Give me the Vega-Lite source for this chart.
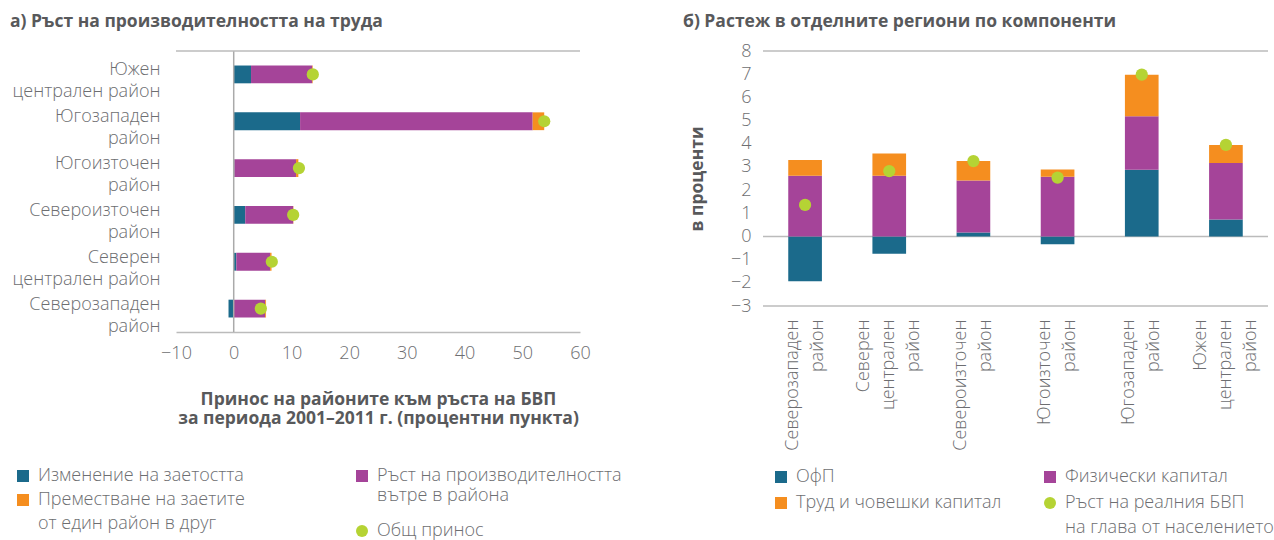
{
  "$schema": "https://vega.github.io/schema/vega-lite/v6.json",
  "padding": {"left": 10, "top": 12, "right": 0, "bottom": 0},
  "spacing": 61,
  "hconcat": [
    {
      "width": 404,
      "height": 281,
      "title": {"text": "а) Ръст на производителността на труда", "anchor": "start", "frame": "group", "dx": -166, "offset": 20},
      "data": {"values": [
        {"r": "Южен централен район", "c": "Изменение на заетостта", "v": 3.0},
        {"r": "Южен централен район", "c": "Ръст на производителността вътре в района", "v": 10.6},
        {"r": "Южен централен район", "c": "Преместване на заетите от един район в друг", "v": 0.1},
        {"r": "Южен централен район", "c": "Общ принос", "v": 13.7},
        {"r": "Югозападен район", "c": "Изменение на заетостта", "v": 11.5},
        {"r": "Югозападен район", "c": "Ръст на производителността вътре в района", "v": 40.3},
        {"r": "Югозападен район", "c": "Преместване на заетите от един район в друг", "v": 2.0},
        {"r": "Югозападен район", "c": "Общ принос", "v": 53.8},
        {"r": "Югоизточен район", "c": "Изменение на заетостта", "v": 0.1},
        {"r": "Югоизточен район", "c": "Ръст на производителността вътре в района", "v": 10.7},
        {"r": "Югоизточен район", "c": "Преместване на заетите от един район в друг", "v": 0.4},
        {"r": "Югоизточен район", "c": "Общ принос", "v": 11.3},
        {"r": "Североизточен район", "c": "Изменение на заетостта", "v": 2.0},
        {"r": "Североизточен район", "c": "Ръст на производителността вътре в района", "v": 8.3},
        {"r": "Североизточен район", "c": "Преместване на заетите от един район в друг", "v": 0.05},
        {"r": "Североизточен район", "c": "Общ принос", "v": 10.3},
        {"r": "Северен централен район", "c": "Изменение на заетостта", "v": 0.45},
        {"r": "Северен централен район", "c": "Ръст на производителността вътре в района", "v": 5.85},
        {"r": "Северен централен район", "c": "Преместване на заетите от един район в друг", "v": 0.25},
        {"r": "Северен централен район", "c": "Общ принос", "v": 6.6},
        {"r": "Северозападен район", "c": "Изменение на заетостта", "v": -0.9},
        {"r": "Северозападен район", "c": "Ръст на производителността вътре в района", "v": 5.45},
        {"r": "Северозападен район", "c": "Преместване на заетите от един район в друг", "v": 0.15},
        {"r": "Северозападен район", "c": "Общ принос", "v": 4.7}
      ]},
      "transform": [
        {"calculate": "indexof(['Изменение на заетостта','Ръст на производителността вътре в района','Преместване на заетите от един район в друг','Общ принос'], datum.c)", "as": "k"}
      ],
      "layer": [
        {
          "transform": [{"filter": "datum.k < 3"}],
          "mark": {"type": "bar"},
          "encoding": {
            "y": {"field": "r", "type": "nominal", "sort": ["Южен централен район", "Югозападен район", "Югоизточен район", "Североизточен район", "Северен централен район", "Северозападен район"],
              "scale": {"paddingInner": 0.62, "paddingOuter": 0.31},
              "axis": {"title": null, "ticks": false, "domain": false, "labelPadding": 16, "labelLimit": 300, "labelLineHeight": 22, "labelOverlap": false, "labelOffset": -4,
                "labelExpr": "indexof(datum.label, 'централен') > 0 ? [split(datum.label, ' ')[0], 'централен район'] : split(datum.label, ' ')"}},
            "x": {"field": "v", "type": "quantitative", "stack": "zero",
              "scale": {"domain": [-10, 60], "nice": false, "zero": false},
              "axis": {"values": [-10, 0, 10, 20, 30, 40, 50, 60], "grid": false, "ticks": false, "domain": true, "domainColor": "#bbbbbb", "domainWidth": 1.5, "labelPadding": 12, "labelOverlap": false, "labelFlush": false,
                "title": ["Принос на районите към ръста на БВП", "за периода 2001–2011 г. (процентни пункта)"], "titlePadding": 28, "titleLineHeight": 19}},
            "color": {"field": "c", "type": "nominal",
              "scale": {"domain": ["Изменение на заетостта", "Ръст на производителността вътре в района", "Преместване на заетите от един район в друг"], "range": ["#1b6a8b", "#a54499", "#f58e1f"]},
              "legend": {"orient": "none", "legendX": -162, "legendY": 416, "values": ["Изменение на заетостта", "Преместване на заетите от един район в друг"], "rowPadding": 6, "title": null, "symbolType": "square",
                "labelExpr": "datum.label == 'Преместване на заетите от един район в друг' ? ['Преместване на заетите', 'от един район в друг'] : datum.label",
                "encode": {"labels": {"update": {"lineHeight": {"value": 24}}}}}},
            "order": {"field": "k", "type": "quantitative"}
          }
        },
        {
          "data": {"values": [{"z": 0}]},
          "mark": {"type": "rule", "color": "#aaaaaa", "strokeWidth": 1.5},
          "encoding": {"x": {"field": "z", "type": "quantitative"}}
        },
        {
          "data": {"values": [{"t": 1}]},
          "mark": {"type": "rule", "color": "#bbbbbb", "strokeWidth": 1.5},
          "encoding": {"y": {"field": "t", "type": "quantitative", "scale": {"domain": [0, 1], "nice": false}, "axis": null}}
        },
        {
          "transform": [{"filter": "datum.k == 3"}],
          "mark": {"type": "point", "filled": true, "size": 150, "opacity": 1},
          "encoding": {
            "y": {"field": "r", "type": "nominal", "sort": ["Южен централен район", "Югозападен район", "Югоизточен район", "Североизточен район", "Северен централен район", "Северозападен район"],
              "scale": {"paddingInner": 0.62, "paddingOuter": 0.31}, "axis": null},
            "x": {"field": "v", "type": "quantitative"},
            "fill": {"field": "c", "type": "nominal",
              "scale": {"domain": ["Ръст на производителността вътре в района", "Общ принос"], "range": ["#a54499", "#b5d334"]},
              "legend": {"orient": "none", "legendX": 177, "legendY": 416, "rowPadding": 17, "title": null,
                "labelExpr": "datum.label == 'Ръст на производителността вътре в района' ? ['Ръст на производителността', 'вътре в района'] : datum.label",
                "encode": {"labels": {"update": {"lineHeight": {"value": 25}}}}}},
            "shape": {"field": "c", "type": "nominal",
              "scale": {"domain": ["Ръст на производителността вътре в района", "Общ принос"], "range": ["square", "circle"]},
              "legend": {"orient": "none", "legendX": 177, "legendY": 416, "rowPadding": 17, "title": null,
                "labelExpr": "datum.label == 'Ръст на производителността вътре в района' ? ['Ръст на производителността', 'вътре в района'] : datum.label",
                "encode": {"labels": {"update": {"lineHeight": {"value": 25}}}}}}
          }
        }
      ],
      "resolve": {"scale": {"y": "independent"}, "axis": {"y": "independent"}}
    },
    {
      "width": 505,
      "height": 255,
      "title": {"text": "б) Растеж в отделните региони по компоненти", "anchor": "start", "frame": "group", "dx": -80, "offset": 12},
      "data": {"values": [
        {"r": "Северозападен район", "c": "ОфП", "v": -1.93},
        {"r": "Северозападен район", "c": "Физически капитал", "v": 2.62},
        {"r": "Северозападен район", "c": "Труд и човешки капитал", "v": 0.68},
        {"r": "Северозападен район", "c": "Ръст на реалния БВП на глава от населението", "v": 1.36},
        {"r": "Северен централен район", "c": "ОфП", "v": -0.75},
        {"r": "Северен централен район", "c": "Физически капитал", "v": 2.62},
        {"r": "Северен централен район", "c": "Труд и човешки капитал", "v": 0.96},
        {"r": "Северен централен район", "c": "Ръст на реалния БВП на глава от населението", "v": 2.82},
        {"r": "Североизточен район", "c": "ОфП", "v": 0.17},
        {"r": "Североизточен район", "c": "Физически капитал", "v": 2.24},
        {"r": "Североизточен район", "c": "Труд и човешки капитал", "v": 0.84},
        {"r": "Североизточен район", "c": "Ръст на реалния БВП на глава от населението", "v": 3.25},
        {"r": "Югоизточен район", "c": "ОфП", "v": -0.34},
        {"r": "Югоизточен район", "c": "Физически капитал", "v": 2.58},
        {"r": "Югоизточен район", "c": "Труд и човешки капитал", "v": 0.31},
        {"r": "Югоизточен район", "c": "Ръст на реалния БВП на глава от населението", "v": 2.54},
        {"r": "Югозападен район", "c": "ОфП", "v": 2.88},
        {"r": "Югозападен район", "c": "Физически капитал", "v": 2.31},
        {"r": "Югозападен район", "c": "Труд и човешки капитал", "v": 1.79},
        {"r": "Югозападен район", "c": "Ръст на реалния БВП на глава от населението", "v": 6.98},
        {"r": "Южен централен район", "c": "ОфП", "v": 0.73},
        {"r": "Южен централен район", "c": "Физически капитал", "v": 2.44},
        {"r": "Южен централен район", "c": "Труд и човешки капитал", "v": 0.78},
        {"r": "Южен централен район", "c": "Ръст на реалния БВП на глава от населението", "v": 3.95}
      ]},
      "transform": [
        {"calculate": "indexof(['ОфП','Физически капитал','Труд и човешки капитал','Ръст на реалния БВП на глава от населението'], datum.c)", "as": "k"}
      ],
      "layer": [
        {
          "data": {"values": [{"g": 8}, {"g": 0}, {"g": -3}]},
          "mark": {"type": "rule", "color": "#bbbbbb", "strokeWidth": 1.5},
          "encoding": {
            "y": {"field": "g", "type": "quantitative", "scale": {"domain": [-3, 8], "nice": false},
              "axis": {"values": [-3, -2, -1, 0, 1, 2, 3, 4, 5, 6, 7, 8], "domain": false, "ticks": false, "grid": false, "labelPadding": 12, "labelOverlap": false, "labelFlush": false, "title": "в проценти", "titlePadding": 24}}
          }
        },
        {
          "transform": [{"filter": "datum.k < 3"}],
          "mark": {"type": "bar"},
          "encoding": {
            "x": {"field": "r", "type": "nominal", "sort": ["Северозападен район", "Северен централен район", "Североизточен район", "Югоизточен район", "Югозападен район", "Южен централен район"],
              "scale": {"paddingInner": 0.6, "paddingOuter": 0.3},
              "axis": {"title": null, "labelAngle": -90, "labelAlign": "right", "labelBaseline": "middle", "ticks": false, "domain": false, "labelPadding": 13, "labelLineHeight": 25, "labelLimit": 300, "labelOverlap": false,
                "labelOffset": {"condition": {"test": "indexof(datum.label, 'централен') > 0", "value": -25}, "value": -12.5},
                "labelExpr": "split(datum.label, ' ')"}},
            "y": {"field": "v", "type": "quantitative", "stack": "zero",
              "axis": {"values": [-3, -2, -1, 0, 1, 2, 3, 4, 5, 6, 7, 8], "domain": false, "ticks": false, "grid": false, "labelPadding": 12, "labelOverlap": false, "labelFlush": false, "title": "в проценти", "titlePadding": 24}},
            "color": {"field": "c", "type": "nominal",
              "scale": {"domain": ["ОфП", "Труд и човешки капитал", "Физически капитал", "Ръст на реалния БВП на глава от населението"], "range": ["#1b6a8b", "#f58e1f", "#a54499", "#b5d334"]},
              "legend": {"orient": "none", "legendX": 9, "legendY": 417, "columns": 2, "columnPadding": 39, "rowPadding": 8, "title": null,
                "labelExpr": "datum.label == 'Ръст на реалния БВП на глава от населението' ? ['Ръст на реалния БВП', 'на глава от населението'] : datum.label",
                "encode": {
                  "symbols": {"update": {"shape": {"signal": "datum.value == 'Ръст на реалния БВП на глава от населението' ? 'circle' : 'square'"}}},
                  "labels": {"update": {"lineHeight": {"value": 25}}}}}},
            "order": {"field": "k", "type": "quantitative"}
          }
        },
        {
          "transform": [{"filter": "datum.k == 3"}],
          "mark": {"type": "point", "filled": true, "size": 150, "opacity": 1},
          "encoding": {
            "x": {"field": "r", "type": "nominal", "sort": ["Северозападен район", "Северен централен район", "Североизточен район", "Югоизточен район", "Югозападен район", "Южен централен район"],
              "axis": {"title": null, "labelAngle": -90, "labelAlign": "right", "labelBaseline": "middle", "ticks": false, "domain": false, "labelPadding": 13, "labelLineHeight": 25, "labelLimit": 300, "labelOverlap": false,
                "labelOffset": {"condition": {"test": "indexof(datum.label, 'централен') > 0", "value": -25}, "value": -12.5},
                "labelExpr": "split(datum.label, ' ')"}},
            "y": {"field": "v", "type": "quantitative",
              "axis": {"values": [-3, -2, -1, 0, 1, 2, 3, 4, 5, 6, 7, 8], "domain": false, "ticks": false, "grid": false, "labelPadding": 12, "labelOverlap": false, "labelFlush": false, "title": "в проценти", "titlePadding": 24}},
            "color": {"field": "c", "type": "nominal"}
          }
        }
      ]
    }
  ],
  "resolve": {"scale": {"color": "independent", "shape": "independent", "fill": "independent"}, "legend": {"color": "independent", "shape": "independent", "fill": "independent"}},
  "config": {
    "view": {"stroke": null},
    "font": "Open Sans",
    "axis": {"labelFont": "Open Sans", "labelFontWeight": 300, "labelFontSize": 18, "labelColor": "#6d6e71", "labelOverlap": false, "labelFlush": false,
      "titleFont": "Open Sans", "titleFontWeight": "bold", "titleFontSize": 17.5, "titleColor": "#58595b"},
    "legend": {"labelFont": "Open Sans", "labelFontWeight": 300, "labelFontSize": 18, "labelColor": "#6d6e71", "labelLimit": 400,
      "symbolSize": 144, "symbolStrokeWidth": 0, "labelOffset": 6, "padding": 0, "labelBaseline": "middle"},
    "title": {"font": "Open Sans", "fontSize": 17.5, "fontWeight": "bold", "color": "#58595b"}
  }
}
